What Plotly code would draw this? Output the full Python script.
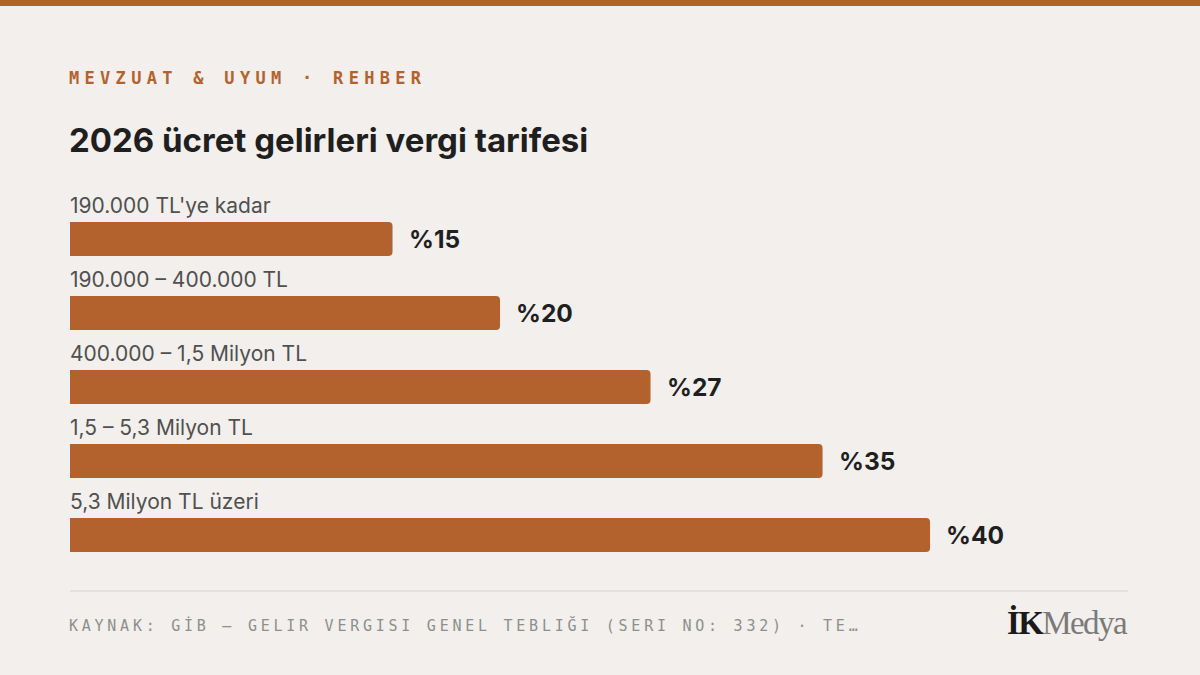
import plotly.graph_objects as go

# vergi dilimleri ve oranlar
brackets = [
    "190.000 TL'ye kadar",
    "190.000 – 400.000 TL",
    "400.000 – 1,5 Milyon TL",
    "1,5 – 5,3 Milyon TL",
    "5,3 Milyon TL üzeri",
]
rates = [15, 20, 27, 35, 40]
rate_labels = ["%15", "%20", "%27", "%35", "%40"]

kicker = "MEVZUAT & UYUM · REHBER"
title = "2026 ücret gelirleri vergi tarifesi"
source = "KAYNAK: GİB — GELIR VERGISI GENEL TEBLIĞI (SERI NO: 332) · TE…"

ACCENT = "#b4622d"
BG = "#f2efec"

rows = list(range(len(brackets)))

fig = go.Figure()
fig.add_trace(go.Bar(
    x=rates, y=rows, orientation="h",
    width=0.46,
    marker=dict(color=ACCENT, line=dict(width=0)),
    hoverinfo="skip",
))

# dilim etiketleri (çubuğun üstünde) ve oran etiketleri (çubuğun sağında)
for i, (b, r, lab) in enumerate(zip(brackets, rates, rate_labels)):
    fig.add_annotation(
        x=0, y=i - 0.23, xref="x", yref="y",
        text=b, showarrow=False, xanchor="left", yanchor="bottom",
        yshift=2, xshift=-2,
        font=dict(family="Inter", size=21, color="#505050"),
    )
    fig.add_annotation(
        x=r, y=i, xref="x", yref="y",
        text="<b>" + lab + "</b>", showarrow=False, xanchor="left", yanchor="middle",
        xshift=14,
        font=dict(family="Inter", size=24.5, color="#1f1f1f"),
    )

# üst başlıklar
fig.add_annotation(
    x=0, y=1.212, xref="paper", yref="paper", showarrow=False,
    xanchor="left", yanchor="middle", xshift=-3,
    text="<b><span style='letter-spacing:5.3px'>" + kicker + "</span></b>",
    font=dict(family="DejaVu Sans Mono", size=17, color=ACCENT),
)
fig.add_annotation(
    x=0, y=1.061, xref="paper", yref="paper", showarrow=False,
    xanchor="left", yanchor="middle", xshift=-3,
    text="<b>" + title + "</b>",
    font=dict(family="Inter", size=33, color="#1f1f1f"),
)

# alt bilgi
fig.add_annotation(
    x=0, y=-0.122, xref="paper", yref="paper", showarrow=False,
    xanchor="left", yanchor="middle", xshift=-3,
    text="<span style='letter-spacing:3.75px'>" + source + "</span>",
    font=dict(family="DejaVu Sans Mono", size=15, color="#8c908c"),
)
fig.add_annotation(
    x=1, y=-0.115, xref="paper", yref="paper", showarrow=False,
    xanchor="right", yanchor="middle", xshift=0,
    text="<span style='letter-spacing:-1.6px'><b>İK</b><span style='color:#7a7a7a'>Medya</span></span>",
    font=dict(family="Liberation Serif", size=33, color="#1a1a1a"),
)

fig.update_layout(
    width=1200, height=675,
    paper_bgcolor=BG, plot_bgcolor=BG,
    margin=dict(l=70, r=70, t=165, b=100),
    showlegend=False,
    barcornerradius=4,
    xaxis=dict(range=[0, 49.3], visible=False, fixedrange=True),
    yaxis=dict(range=[4.54, -1.0], visible=False, fixedrange=True),
    shapes=[
        dict(type="rect", xref="paper", yref="paper", x0=-0.1, x1=1.1,
             y0=1.388, y1=1.41, fillcolor=ACCENT, line=dict(width=0), layer="below"),
        dict(type="line", xref="paper", yref="paper", x0=0, x1=0.998,
             y0=-0.039, y1=-0.039, line=dict(color="#e2e3de", width=2)),
    ],
)

fig.write_html("out.html", config={"displayModeBar": False},
               post_script="document.body.style.margin='0';")
